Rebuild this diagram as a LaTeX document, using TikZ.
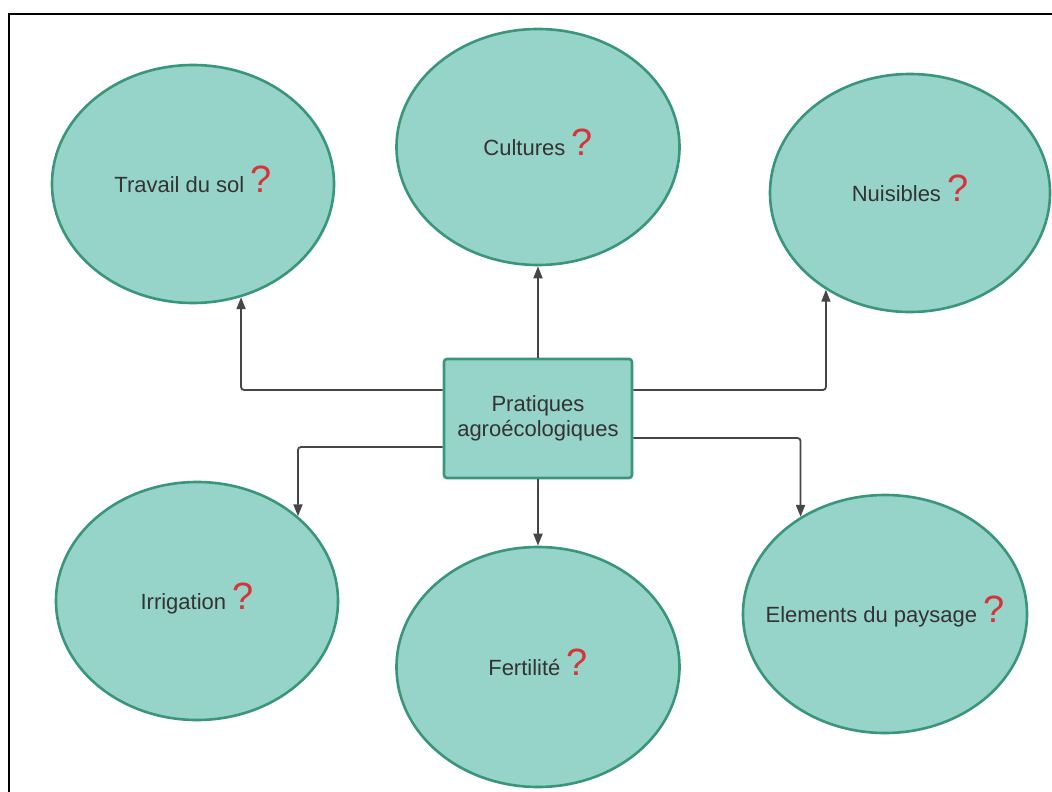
\documentclass[tikz,border=0pt]{standalone}
\usepackage{fontspec}
\setmainfont{Liberation Sans}
\usetikzlibrary{shapes.geometric,arrows.meta}
\definecolor{fillc}{RGB}{150,211,201}
\definecolor{edgec}{RGB}{58,150,122}
\definecolor{txtc}{RGB}{51,51,51}
\definecolor{qmc}{RGB}{214,52,56}
\definecolor{linec}{RGB}{70,70,70}
\newcommand{\qm}{{\color{qmc}\fontsize{38}{38}\selectfont ?}}
\newcommand{\lbl}[1]{\makebox[0pt]{#1}}
\tikzset{
  bubble/.style={ellipse, draw=edgec, line width=2.6pt, fill=fillc, inner sep=0pt,
    text=txtc, font=\fontsize{22}{25}\selectfont, text height=16pt, text depth=0pt},
  centerbox/.style={rectangle, rounded corners=3pt, draw=edgec, line width=2.6pt, fill=fillc,
    minimum width=188pt, minimum height=119pt, inner sep=0pt, align=center,
    text=txtc, font=\fontsize{22}{25}\selectfont},
  conn/.style={draw=linec, line width=1.8pt, rounded corners=3pt,
    -{Triangle[length=12pt,width=9pt]}},
  frame/.style={draw=black, line width=2.5pt}
}
\begin{document}
\begin{tikzpicture}[x=1pt,y=1pt]
\useasboundingbox (0,0) rectangle (1052,-792);
\fill[white] (0,0) rectangle (1052,-792);
\draw[frame] (1052,-14) -- (9,-14) -- (9,-792);

\node[centerbox] (box) at (538,-418.5) {Pratiques\\agroécologiques};

\node[bubble, minimum width=282pt, minimum height=238pt] (travail) at (193,-184) {\lbl{Travail du sol \qm}};
\node[bubble, minimum width=283pt, minimum height=236pt] (cultures) at (538,-147) {\lbl{Cultures \qm}};
\node[bubble, minimum width=280pt, minimum height=238pt] (nuis) at (910,-193) {\lbl{Nuisibles \qm}};
\node[bubble, minimum width=282pt, minimum height=238pt] (irrig) at (197,-601) {\lbl{Irrigation \qm}};
\node[bubble, minimum width=283pt, minimum height=240pt] (fert) at (538,-667) {\lbl{Fertilité \qm}};
\node[bubble, minimum width=284pt, minimum height=238pt] (elem) at (885,-614) {\lbl{Elements du paysage \qm}};

\draw[conn] ([yshift=28.5pt]box.west) -| (travail.-67.2);
\draw[conn] (box.north) -- (cultures.south);
\draw[conn] ([yshift=28.5pt]box.east) -| (nuis.229.6);
\draw[conn] ([yshift=-28.5pt]box.west) -| (irrig.40);
\draw[conn] (box.south) -- (fert.north);
\draw[conn] ([yshift=-19.5pt]box.east) -| (elem.131.7);
\end{tikzpicture}
\end{document}
